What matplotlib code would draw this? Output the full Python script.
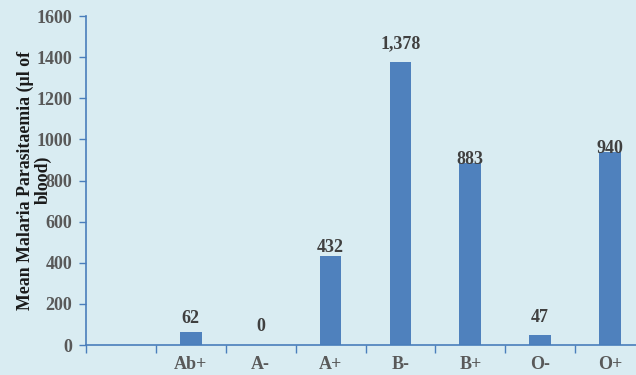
import matplotlib.pyplot as plt
import numpy as np

groups = ["", "Ab+", "A-", "A+", "B-", "B+", "O-", "O+"]
parasitaemia = [np.nan, 62, 0, 432, 1378, 883, 47, 940]
value_text = ["", "62", "0", "432", "1,378", "883", "47", "940"]

bg = "#d9ecf2"
bar_color = "#4f81bd"
axis_color = "#4a7ebb"

plt.rcParams["font.family"] = ["Liberation Serif", "DejaVu Serif"]

fig = plt.figure(figsize=(6.36, 3.75), dpi=100, facecolor=bg)
ax = fig.add_axes([0.1352, 0.08, 0.879, 0.8773], facecolor=bg)

x = np.arange(len(groups))
ax.bar(x, parasitaemia, width=0.31, color=bar_color, zorder=2)

# label gap above each bar, in points (Excel placed them a bit unevenly)
pads = [0, 4, 7, 0, 7, -3, 7, -3.5]
for xi, v, t, p in zip(x, parasitaemia, value_text, pads):
    if t:
        ax.annotate(t, (xi, v), xytext=(0, p), textcoords="offset points",
                    ha="center", va="bottom", fontsize=13, fontweight="bold",
                    color="#404040", zorder=3)

ax.set_xlim(-0.5, len(groups) - 0.5)
ax.set_ylim(0, 1600)
ax.set_yticks(np.arange(0, 1601, 200))

ax.set_xticks(x)
ax.set_xticklabels(groups)
ax.set_xticks(np.arange(-0.5, len(groups), 1), minor=True)
ax.tick_params(axis="x", which="major", length=0, pad=8)
ax.tick_params(axis="x", which="minor", length=6, direction="out",
               color=axis_color, width=1)
ax.tick_params(axis="y", length=5, direction="out", color=axis_color, width=1,
               pad=5)
for lbl in ax.get_xticklabels() + ax.get_yticklabels():
    lbl.set_fontsize(13)
    lbl.set_fontweight("bold")
    lbl.set_color("#595959")

for side in ("top", "right"):
    ax.spines[side].set_visible(False)
for side in ("left", "bottom"):
    ax.spines[side].set_color(axis_color)
    ax.spines[side].set_linewidth(1.2)

fig.text(0.054, 0.52, "Mean Malaria Parasitaemia (µl of\nblood)", rotation=90,
         ha="center", va="center", multialignment="center", fontsize=12.8,
         fontweight="bold", color="#1a1a1a", linespacing=1.0)

fig.savefig("out.png", dpi=100, facecolor=bg)
